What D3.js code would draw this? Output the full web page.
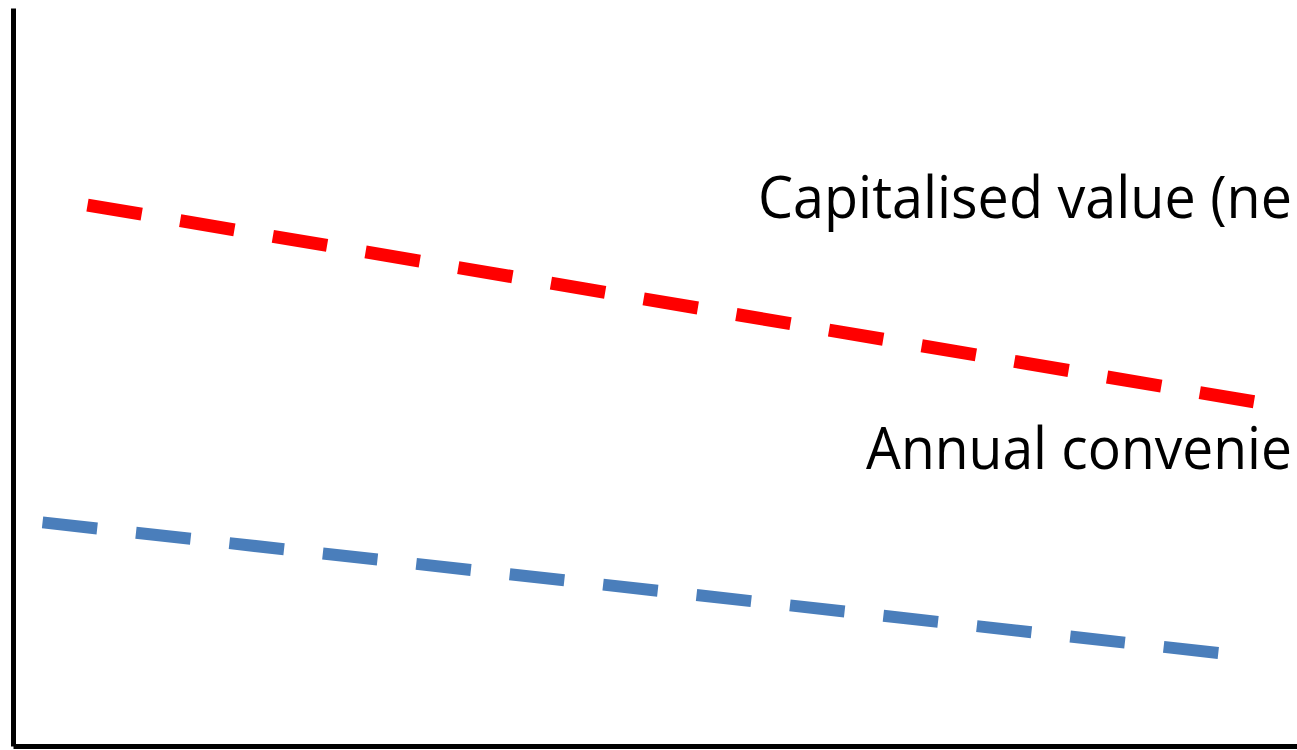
<!DOCTYPE html>
<html><head><meta charset="utf-8">
<script src="https://cdn.jsdelivr.net/npm/d3@7"></script>
<style>html,body{margin:0;padding:0;background:#fff;overflow:hidden}</style>
</head><body>
<svg id="c" width="1297" height="750"></svg>
<script>
// Data (abstract units)
const seriesNames = ["Capitalised value (ne", "Annual convenie"];
const capX = [5.8, 96.8];
const capY = [73.3, 46.6];
const annX = [2.3, 93.9];
const annY = [30.3, 12.6];
const labelX = [100, 100];
const labelY = [71.5, 37.6];
const labelLen = [534, 426];

const svg = d3.select("#c");
const x = d3.scaleLinear().domain([0, 100]).range([13, 1297]);
const y = d3.scaleLinear().domain([0, 100]).range([746, 8]);

// axes
const yAxis = d3.axisLeft(y).tickValues([]).tickSizeOuter(0);
const xAxis = d3.axisBottom(x).tickValues([]).tickSizeOuter(0);
svg.append("g").attr("transform", `translate(${x(0)},0)`).call(yAxis)
  .select(".domain").attr("stroke", "#000").attr("stroke-width", 5);
svg.append("g").attr("transform", `translate(0,${y(0)})`).call(xAxis)
  .select(".domain").attr("stroke", "#000").attr("stroke-width", 5);

const line = d3.line().x(d => x(d[0])).y(d => y(d[1]));
svg.append("path").datum(d3.zip(capX, capY)).attr("d", line)
  .attr("fill", "none").attr("stroke", "#ff0000").attr("stroke-width", 13)
  .attr("stroke-dasharray", "55,39");
svg.append("path").datum(d3.zip(annX, annY)).attr("d", line)
  .attr("fill", "none").attr("stroke", "#4a7ebb").attr("stroke-width", 12)
  .attr("stroke-dasharray", "55,39");

seriesNames.forEach((t, i) => {
  svg.append("text").attr("x", x(labelX[i]) - 5).attr("y", y(labelY[i]))
    .attr("text-anchor", "end")
    .attr("font-family", "'Open Sans', sans-serif").attr("font-size", 58)
    .attr("textLength", labelLen[i]).attr("lengthAdjust", "spacingAndGlyphs")
    .attr("fill", "#000").text(t);
});
</script>
</body></html>
